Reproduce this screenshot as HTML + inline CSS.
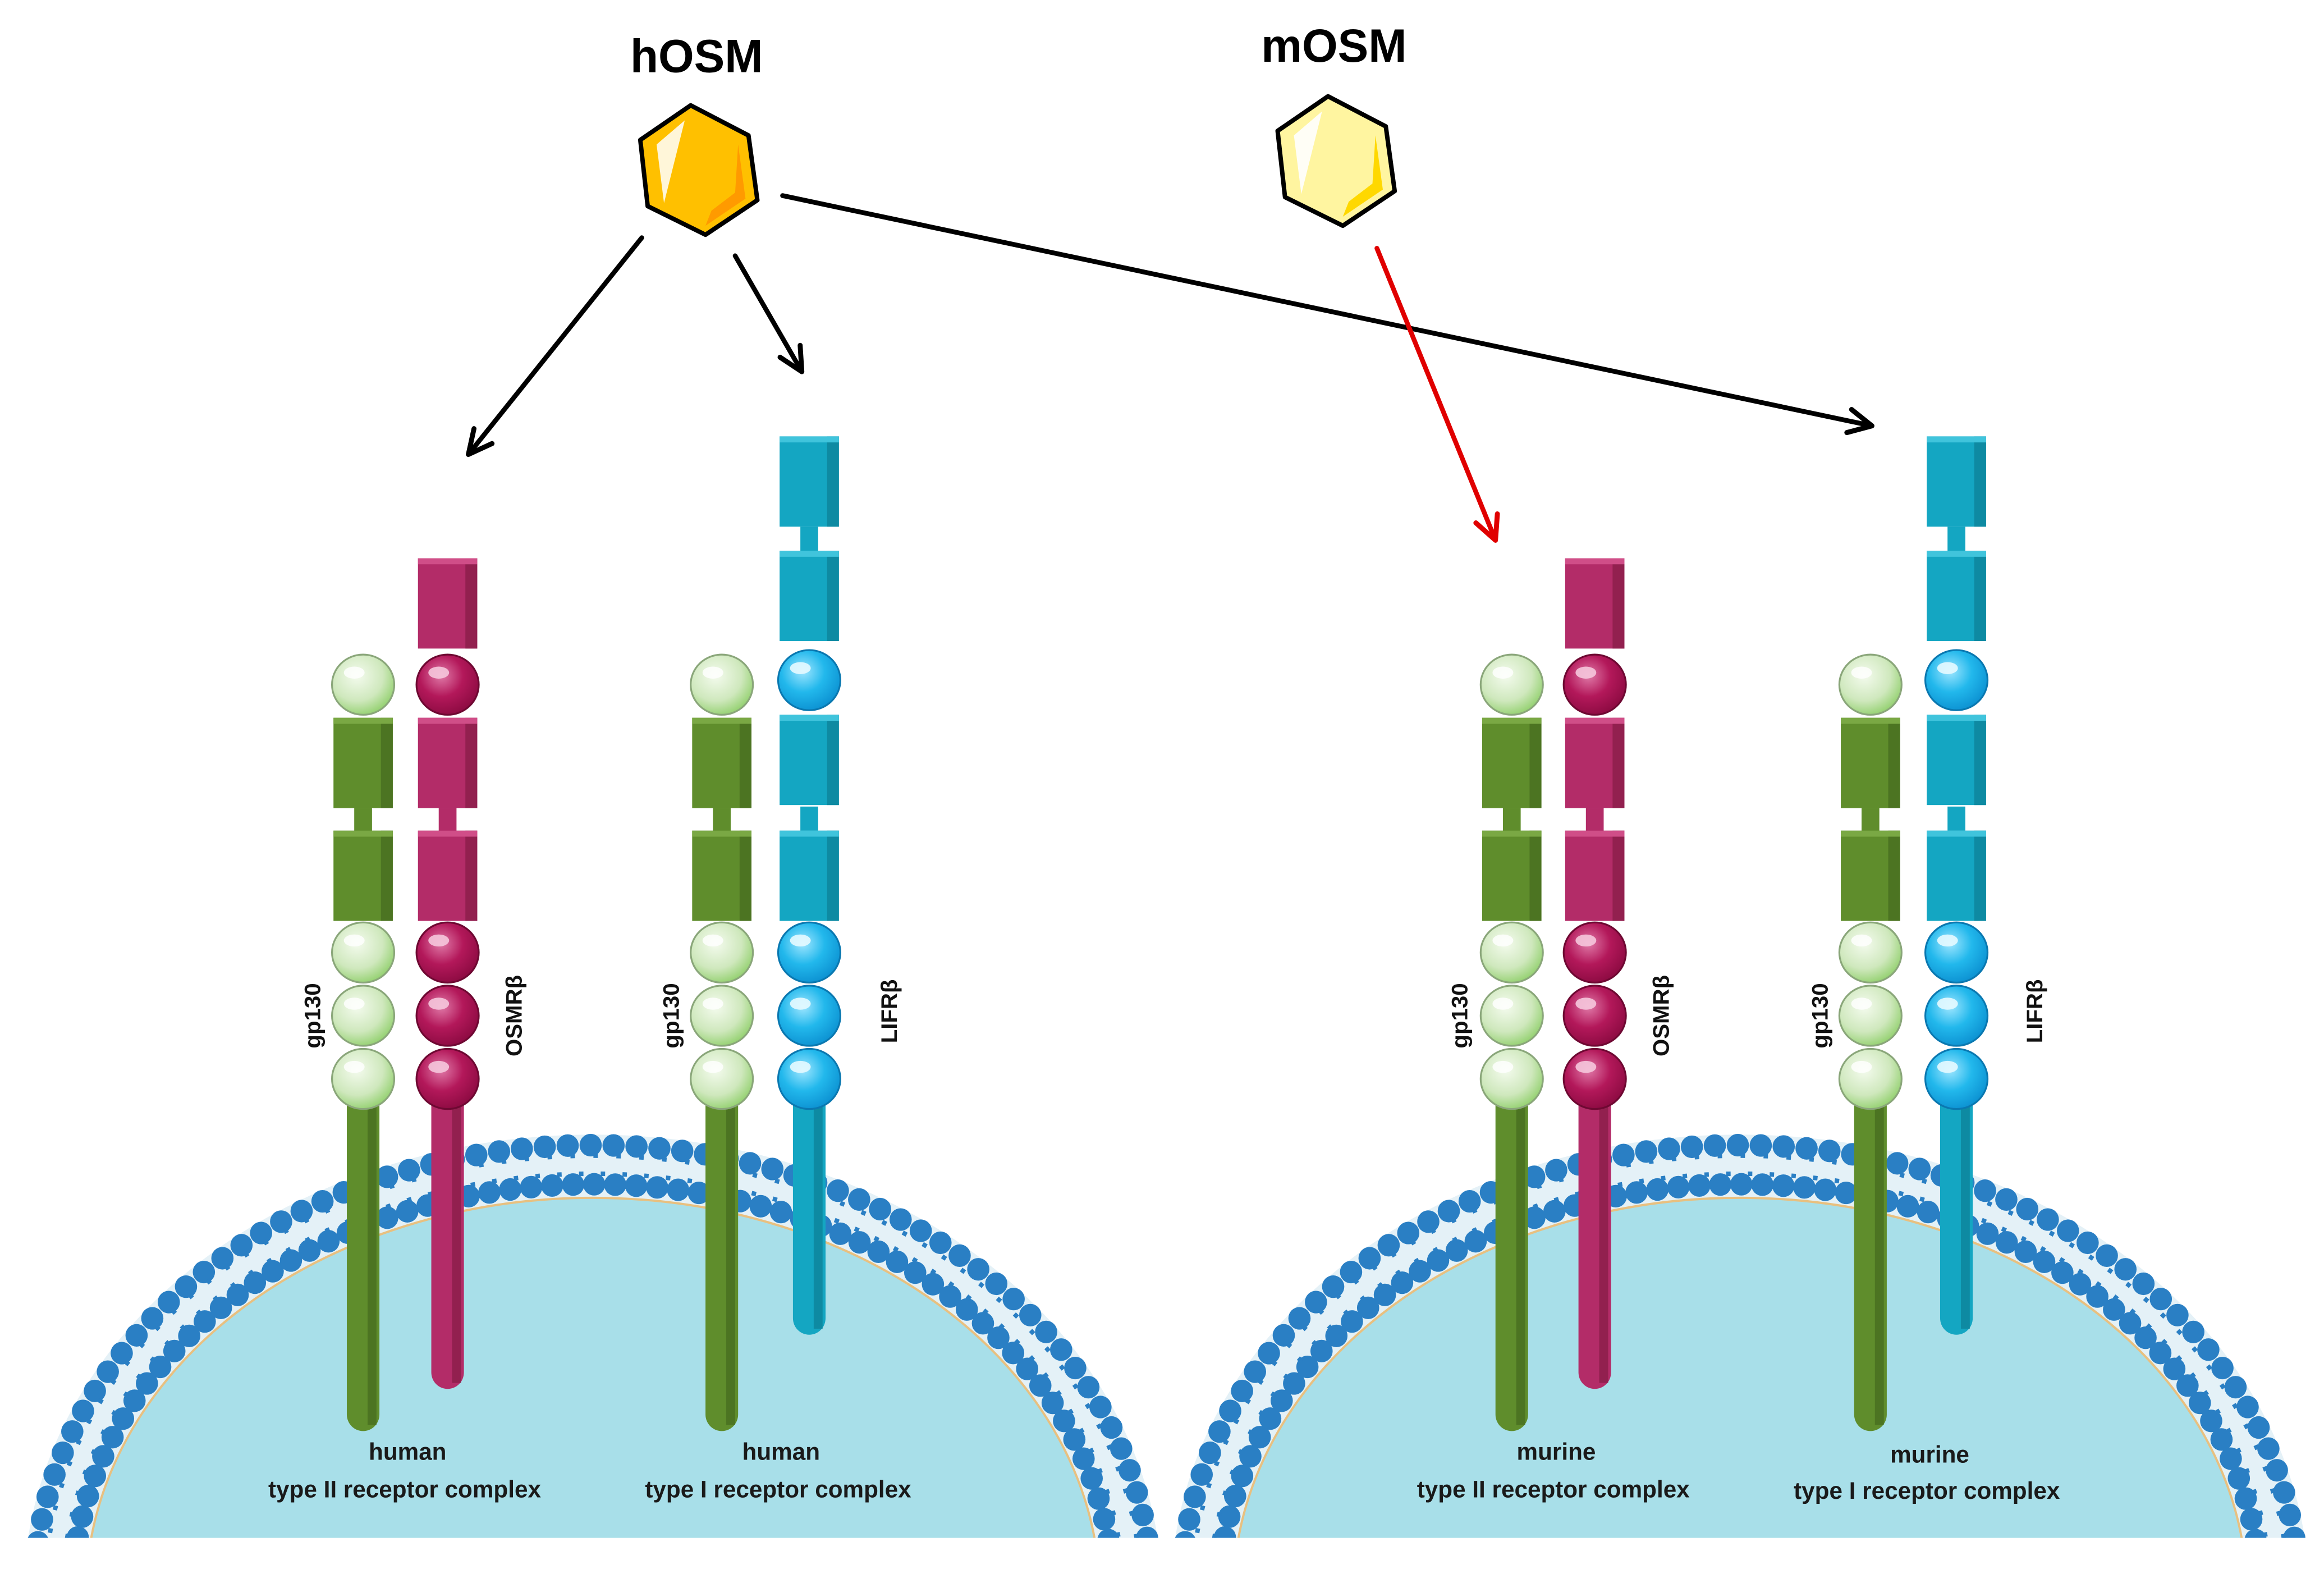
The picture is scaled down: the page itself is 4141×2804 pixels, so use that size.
<!DOCTYPE html>
<html><head><meta charset="utf-8"><style>
html,body{margin:0;padding:0;background:#fff;width:4141px;height:2804px;overflow:hidden;}
svg{display:block;position:absolute;left:0;top:0;}
</style></head><body>
<svg width="4141" height="2804" viewBox="0 0 1568 1046" preserveAspectRatio="none" xmlns="http://www.w3.org/2000/svg">
<defs>
<radialGradient id="gG" cx="0.4" cy="0.35" r="0.7"><stop offset="0" stop-color="#f4fbee"/><stop offset="0.6" stop-color="#cfe8bd"/><stop offset="1" stop-color="#8fcf6a"/></radialGradient>
<radialGradient id="gM" cx="0.4" cy="0.35" r="0.7"><stop offset="0" stop-color="#e07aa8"/><stop offset="0.5" stop-color="#b3185a"/><stop offset="1" stop-color="#8a0a40"/></radialGradient>
<radialGradient id="gC" cx="0.4" cy="0.35" r="0.7"><stop offset="0" stop-color="#9fe6ff"/><stop offset="0.5" stop-color="#22b8ec"/><stop offset="1" stop-color="#0b8fd0"/></radialGradient>
<g id="bG"><ellipse rx="21" ry="20" fill="url(#gG)" stroke="#8aa67a" stroke-width="1.2"/><ellipse cx="-6" cy="-8" rx="7" ry="4" fill="#fff" opacity="0.8"/></g>
<g id="bM"><ellipse rx="21" ry="20" fill="url(#gM)" stroke="#6e0832" stroke-width="1.2"/><ellipse cx="-6" cy="-8" rx="7" ry="4" fill="#f5c6dc" opacity="0.9"/></g>
<g id="bC"><ellipse rx="21" ry="20" fill="url(#gC)" stroke="#0a78b0" stroke-width="1.2"/><ellipse cx="-6" cy="-8" rx="7" ry="4" fill="#e6f9ff" opacity="0.9"/></g>
<g id="cG"><rect x="-20" y="0" width="40" height="60" fill="#5f8d2c"/><rect x="12" y="0" width="8" height="60" fill="#4c7422"/><rect x="-20" y="0" width="40" height="4" fill="#7aa844"/></g>
<g id="cM"><rect x="-20" y="0" width="40" height="60" fill="#b32c68"/><rect x="12" y="0" width="8" height="60" fill="#92204f"/><rect x="-20" y="0" width="40" height="4" fill="#d04e88"/></g>
<g id="cC"><rect x="-20" y="0" width="40" height="60" fill="#14a6c2"/><rect x="12" y="0" width="8" height="60" fill="#0e8aa2"/><rect x="-20" y="0" width="40" height="4" fill="#40c4dc"/></g>
<marker id="ab" viewBox="0 0 20 20" refX="17" refY="10" markerWidth="7" markerHeight="7" orient="auto" markerUnits="strokeWidth"><path d="M3,3 L17,10 L3,17" fill="none" stroke="#000" stroke-width="3" stroke-linecap="round" stroke-linejoin="round"/></marker>
<marker id="ar" viewBox="0 0 20 20" refX="17" refY="10" markerWidth="7" markerHeight="7" orient="auto" markerUnits="strokeWidth"><path d="M3,3 L17,10 L3,17" fill="none" stroke="#e00000" stroke-width="3" stroke-linecap="round" stroke-linejoin="round"/></marker>
<clipPath id="clipB"><rect x="0" y="0" width="1568" height="1022"/></clipPath>
<g id="cell">
<ellipse cx="0" cy="1060" rx="384" ry="306" fill="#e4f1f7"/>
<ellipse cx="0" cy="1060" rx="377" ry="299" fill="none" stroke="#2a7fc4" stroke-width="15" stroke-dasharray="0 15.5" stroke-linecap="round"/>
<ellipse cx="0" cy="1060" rx="351" ry="273" fill="none" stroke="#2a7fc4" stroke-width="15" stroke-dasharray="0 14.2" stroke-linecap="round"/>
<ellipse cx="0" cy="1060" rx="370" ry="292" fill="none" stroke="#2a7fc4" stroke-width="3" stroke-dasharray="3 12.5"/>
<ellipse cx="0" cy="1060" rx="358" ry="280" fill="none" stroke="#2a7fc4" stroke-width="3" stroke-dasharray="3 11.7"/>
<ellipse cx="0" cy="1060" rx="342" ry="264" fill="#a8dfe9" stroke="#e8c080" stroke-width="1.5"/>
</g>
</defs>

<g clip-path="url(#clipB)">
<use href="#cell" x="400" y="0"/>
<use href="#cell" x="1174" y="0"/>
</g>

<g id="gp">
<rect x="234" y="717" width="22" height="234" rx="11" fill="#5f8d2c"/><rect x="248" y="717" width="6" height="230" fill="#4c7422"/>
<use href="#bG" x="245" y="455"/>
<use href="#cG" x="245" y="477"/>
<rect x="239" y="537" width="12" height="16" fill="#5f8d2c"/>
<use href="#cG" x="245" y="552"/>
<use href="#bG" x="245" y="633"/><use href="#bG" x="245" y="675"/><use href="#bG" x="245" y="717"/>
</g>
<g>
<rect x="291" y="717" width="22" height="206" rx="11" fill="#b32c68"/><rect x="305" y="717" width="6" height="202" fill="#92204f"/>
<use href="#cM" x="302" y="371"/>
<use href="#bM" x="302" y="455"/>
<use href="#cM" x="302" y="477"/>
<rect x="296" y="537" width="12" height="16" fill="#b32c68"/>
<use href="#cM" x="302" y="552"/>
<use href="#bM" x="302" y="633"/><use href="#bM" x="302" y="675"/><use href="#bM" x="302" y="717"/>
</g>

<use href="#gp" x="242" y="0"/>
<g id="lif">
<rect x="535" y="717" width="22" height="170" rx="11" fill="#14a6c2"/><rect x="549" y="717" width="6" height="166" fill="#0e8aa2"/>
<use href="#cC" x="546" y="290"/>
<rect x="540" y="350" width="12" height="16" fill="#14a6c2"/>
<use href="#cC" x="546" y="366"/>
<use href="#bC" x="546" y="452"/>
<use href="#cC" x="546" y="475"/>
<rect x="540" y="536" width="12" height="16" fill="#14a6c2"/>
<use href="#cC" x="546" y="552"/>
<use href="#bC" x="546" y="633"/><use href="#bC" x="546" y="675"/><use href="#bC" x="546" y="717"/>
</g>

<use href="#gp" x="775" y="0"/>
<g transform="translate(774,0)">
<rect x="291" y="717" width="22" height="206" rx="11" fill="#b32c68"/><rect x="305" y="717" width="6" height="202" fill="#92204f"/>
<use href="#cM" x="302" y="371"/>
<use href="#bM" x="302" y="455"/>
<use href="#cM" x="302" y="477"/>
<rect x="296" y="537" width="12" height="16" fill="#b32c68"/>
<use href="#cM" x="302" y="552"/>
<use href="#bM" x="302" y="633"/><use href="#bM" x="302" y="675"/><use href="#bM" x="302" y="717"/>
</g>

<use href="#gp" x="1017" y="0"/>
<use href="#lif" x="774" y="0"/>

<g font-family="Liberation Sans, sans-serif" font-weight="bold" font-size="15" fill="#111">
<text transform="translate(216,675) rotate(-90)" text-anchor="middle">gp130</text>
<text transform="translate(352,675) rotate(-90)" text-anchor="middle">OSMRβ</text>
<text transform="translate(458,675) rotate(-90)" text-anchor="middle">gp130</text>
<text transform="translate(605,672) rotate(-90)" text-anchor="middle">LIFRβ</text>
<text transform="translate(990,675) rotate(-90)" text-anchor="middle">gp130</text>
<text transform="translate(1126,675) rotate(-90)" text-anchor="middle">OSMRβ</text>
<text transform="translate(1233,675) rotate(-90)" text-anchor="middle">gp130</text>
<text transform="translate(1378,672) rotate(-90)" text-anchor="middle">LIFRβ</text>
</g>

<g font-family="Liberation Sans, sans-serif" font-weight="bold" font-size="16" fill="#1a1a1a" text-anchor="middle">
<text x="275" y="970">human</text><text x="273" y="995">type II receptor complex</text>
<text x="527" y="970">human</text><text x="525" y="995">type I receptor complex</text>
<text x="1050" y="970">murine</text><text x="1048" y="995">type II receptor complex</text>
<text x="1302" y="972">murine</text><text x="1300" y="996">type I receptor complex</text>
</g>

<g font-family="Liberation Sans, sans-serif" font-weight="bold" font-size="31" fill="#000" text-anchor="middle">
<text x="470" y="48">hOSM</text>
<text x="900" y="41">mOSM</text>
</g>
<polygon points="466,70 505,90 511,133 476,156 437,137 432,93" fill="#ffc000" stroke="#000" stroke-width="3" stroke-linejoin="round"/>
<polygon points="498,96 503,132 476,150 480,140 496,128" fill="#ff9a00"/>
<polygon points="443,96 462,80 448,135" fill="#fff" opacity="0.85"/>
<polygon points="896,64 935,84 941,127 906,150 867,131 862,87" fill="#fff5a0" stroke="#000" stroke-width="3" stroke-linejoin="round"/>
<polygon points="928,90 933,126 906,144 910,134 926,122" fill="#ffd800"/>
<polygon points="873,90 892,74 878,129" fill="#fff" opacity="0.9"/>

<g stroke-width="3.2" fill="none" stroke-linecap="round">
<line x1="433" y1="158" x2="316" y2="302" stroke="#000" marker-end="url(#ab)"/>
<line x1="496" y1="170" x2="541" y2="247" stroke="#000" marker-end="url(#ab)"/>
<line x1="528" y1="130" x2="1263" y2="283" stroke="#000" marker-end="url(#ab)"/>
<line x1="929" y1="165" x2="1009" y2="359" stroke="#e00000" marker-end="url(#ar)"/>
</g>
</svg>
</body></html>
